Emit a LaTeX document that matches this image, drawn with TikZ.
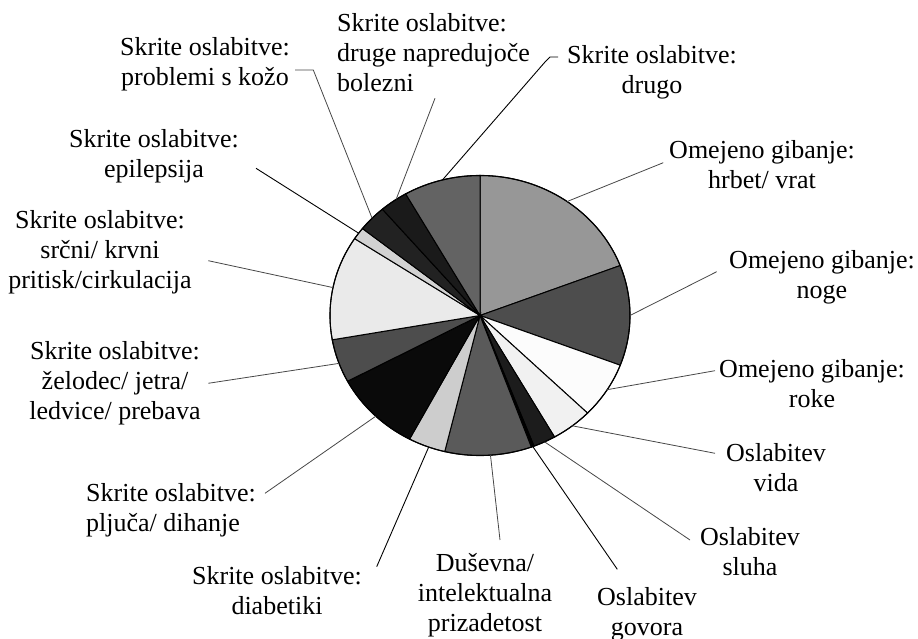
\documentclass[tikz,border=0pt]{standalone}
\usepackage{fontspec}
\setmainfont{Liberation Serif}
\definecolor{chrbet}{HTML}{979797}
\definecolor{cnoge}{HTML}{4D4D4D}
\definecolor{croke}{HTML}{FCFCFC}
\definecolor{cvida}{HTML}{F1F1F1}
\definecolor{csluha}{HTML}{1C1C1C}
\definecolor{cgovora}{HTML}{000000}
\definecolor{cdusevna}{HTML}{5A5A5A}
\definecolor{cdiab}{HTML}{CDCDCD}
\definecolor{cpljuca}{HTML}{0A0A0A}
\definecolor{czelodec}{HTML}{4D4D4D}
\definecolor{csrcni}{HTML}{EAEAEA}
\definecolor{cepil}{HTML}{D2D2D2}
\definecolor{ckoza}{HTML}{222222}
\definecolor{cdruge}{HTML}{1A1A1A}
\definecolor{cdrugo}{HTML}{636363}
\tikzset{
  lbl/.style={font=\fontsize{26}{30}\selectfont, align=center, inner sep=0pt},
  leader/.style={draw=black!72, line width=0.8pt},
  leaderdark/.style={draw=black, line width=0.9pt},
}
\begin{document}
\begin{tikzpicture}[x=1pt,y=1pt]
    \useasboundingbox (0,0) rectangle (918,639);
    \coordinate (O) at (480,323.5);

    \foreach \a/\b/\c in {90/20.9/chrbet, 20.9/-20.8/cnoge, -20.8/-44.2/croke, -44.2/-60.2/cvida,
        -60.2/-68.9/csluha, -68.9/-70/cgovora, -70/-103.6/cdusevna, -103.6/-118/cdiab,
        -118/-152/cpljuca, -152/-170/czelodec, -170/-213.3/csrcni, -213.3/-218.4/cepil,
        -218.4/-229.4/ckoza, -229.4/-240.3/cdruge, -240.3/-270/cdrugo}
        \filldraw[fill=\c, draw=black, line width=1pt] (O) -- ++(\a:150pt and 140pt)
            arc[start angle=\a, end angle=\b, x radius=150pt, y radius=140pt] -- cycle;
    \draw[line width=1.1pt] (O) ellipse[x radius=150pt, y radius=140pt];

    \node[lbl] (koza) at (205,574.5) {Skrite oslabitve:\\problemi s kožo};
    \node[lbl, anchor=west, align=left] (druge) at (337,586.5) {Skrite oslabitve:\\druge napredujoče\\bolezni};
    \node[lbl] (drugo) at (652,567) {Skrite oslabitve:\\drugo};
    \node[lbl] (hrbet) at (762,474) {Omejeno gibanje:\\hrbet/ vrat};
    \node[lbl] (noge) at (822,362) {Omejeno gibanje:\\noge};
    \node[lbl] (roke) at (812,255) {Omejeno gibanje:\\roke};
    \node[lbl] (vida) at (776,171) {Oslabitev\\vida};
    \node[lbl] (sluha) at (750,87.3) {Oslabitev\\sluha};
    \node[lbl] (govora) at (647,25) {Oslabitev\\govora};
    \node[lbl] (dusevna) at (485,44) {Duševna/\\intelektualna\\prizadetost};
    \node[lbl] (diab) at (277,48) {Skrite oslabitve:\\diabetiki};
    \node[lbl, anchor=west, align=left] (pljuca) at (86,129) {Skrite oslabitve:\\pljuča/ dihanje};
    \node[lbl] (zelodec) at (115,255.7) {Skrite oslabitve:\\želodec/ jetra/\\ledvice/ prebava};
    \node[lbl] (srcni) at (100,387) {Skrite oslabitve:\\srčni/ krvni\\pritisk/cirkulacija};
    \node[lbl] (epil) at (154,482.3) {Skrite oslabitve:\\epilepsija};

    \foreach \ang/\n in {136/koza, 124/druge, 104.5/drugo, 54.5/hrbet, 0/noge, -32/roke, -52/vida,
        -64.5/sluha, -69.4/govora, -86/dusevna, -110/diab, -134/pljuca, 200/zelodec, 168.5/srcni, 144/epil}
        \path (O) ++(\ang:150pt and 140pt) coordinate (p\n);

    \coordinate (bkoza) at (313.3,569);
    \coordinate (ekoza) at (295,569);
    \coordinate (edruge) at (435,540.7);
    \coordinate (bdrugo) at (545,577);
    \coordinate (cdrugo) at (550,582);
    \coordinate (edrugo) at (558,582);
    \coordinate (ehrbet) at (663.3,476.3);
    \coordinate (enoge) at (716.7,367.3);
    \coordinate (eroke) at (715,268.3);
    \coordinate (evida) at (715,185.7);
    \coordinate (esluha) at (690,99);
    \coordinate (egovora) at (617.3,69.7);
    \coordinate (edusevna) at (500,99);
    \coordinate (ediab) at (376.7,72.3);
    \coordinate (epljuca) at (265,145.7);
    \coordinate (ezelodec) at (208.3,255.7);
    \coordinate (esrcni) at (208.3,378.3);
    \coordinate (eepil) at (256,470.7);

    \draw[leader] (pkoza) -- (bkoza) -- (ekoza);
    \draw[leaderdark] (pdrugo) -- (bdrugo) -- (cdrugo) -- (edrugo);
    \foreach \n in {druge, hrbet, noge, roke, vida, sluha, dusevna, pljuca, zelodec, srcni}
        \draw[leader] (p\n) -- (e\n);
    \foreach \n in {govora, diab, epil}
        \draw[leaderdark] (p\n) -- (e\n);
\end{tikzpicture}
\end{document}
